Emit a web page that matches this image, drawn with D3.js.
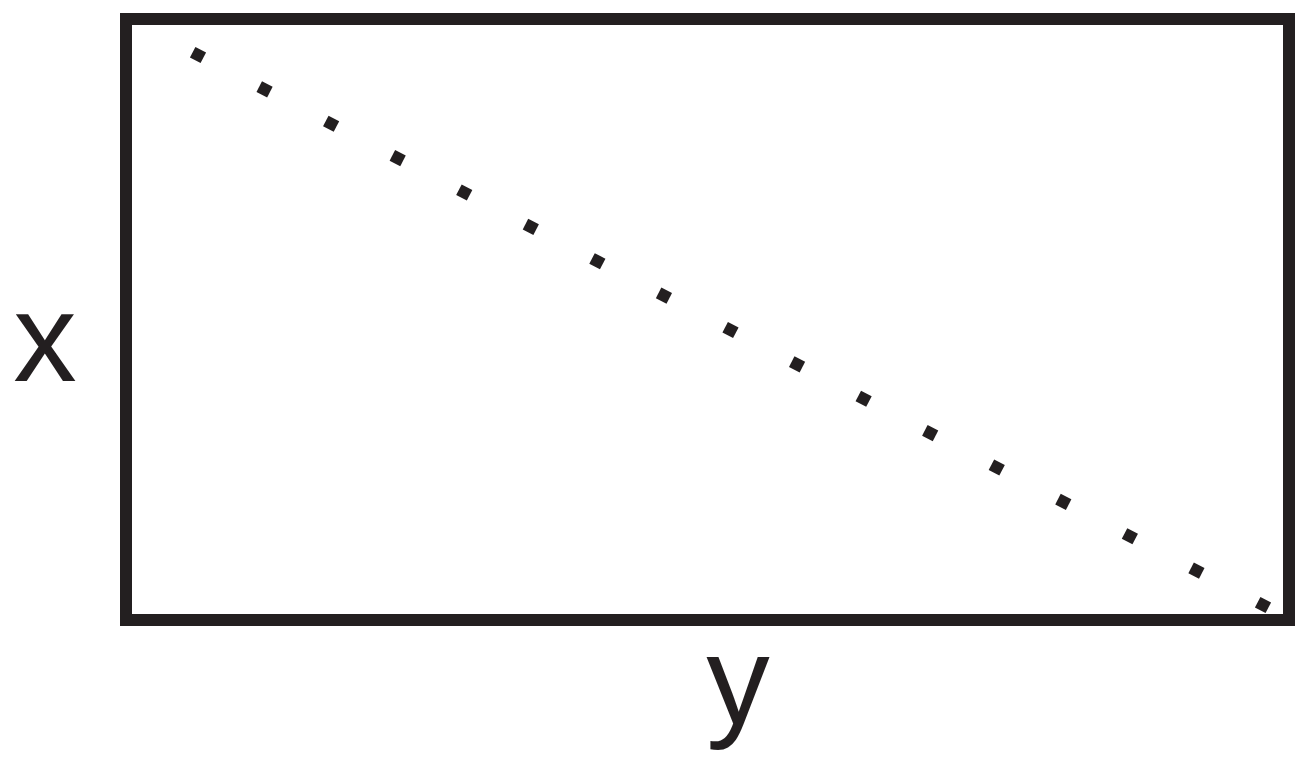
<!DOCTYPE html>
<html>
<head>
<meta charset="utf-8">
<script src="https://cdn.jsdelivr.net/npm/d3@7"></script>
<style>
  html, body { margin: 0; padding: 0; background: #fff; }
  svg { display: block; }
</style>
</head>
<body>
<svg id="chart" width="1310" height="763"></svg>
<script>
// Data
const positions = [0, 1, 2, 3, 4, 5, 6, 7, 8, 9, 10, 11, 12, 13, 14, 15, 16];
const values = [16, 15, 14, 13, 12, 11, 10, 9, 8, 7, 6, 5, 4, 3, 2, 1, 0];
const xLabel = "x";
const yLabel = "y";

const ink = "#231f20";
const svg = d3.select("#chart");

// Frame
const frame = { left: 126, top: 19, right: 1289, bottom: 620 };

const xs = d3.scaleLinear().domain([0, 16]).range([198, 1263]);
const ys = d3.scaleLinear().domain([0, 16]).range([605, 55]);

svg.append("rect")
  .attr("x", frame.left).attr("y", frame.top)
  .attr("width", frame.right - frame.left)
  .attr("height", frame.bottom - frame.top)
  .attr("fill", "none")
  .attr("stroke", ink)
  .attr("stroke-width", 12);

const angle = Math.atan2(ys(0) - ys(16), xs(16) - xs(0)) * 180 / Math.PI;
const s = 12;

svg.append("g").selectAll("rect")
  .data(positions.map((p, i) => ({ p, v: values[i] })))
  .join("rect")
  .attr("x", -s / 2).attr("y", -s / 2)
  .attr("width", s).attr("height", s)
  .attr("fill", ink)
  .attr("transform", d => `translate(${xs(d.p)},${ys(d.v)}) rotate(${angle})`);

svg.append("text")
  .attr("x", 45).attr("y", 381)
  .attr("text-anchor", "middle")
  .attr("font-family", "Liberation Sans, Arial, sans-serif")
  .attr("font-size", 127)
  .attr("fill", ink)
  .text(xLabel);

svg.append("text")
  .attr("x", 738).attr("y", 724)
  .attr("text-anchor", "middle")
  .attr("font-family", "Liberation Sans, Arial, sans-serif")
  .attr("font-size", 127)
  .attr("fill", ink)
  .text(yLabel);
</script>
</body>
</html>
